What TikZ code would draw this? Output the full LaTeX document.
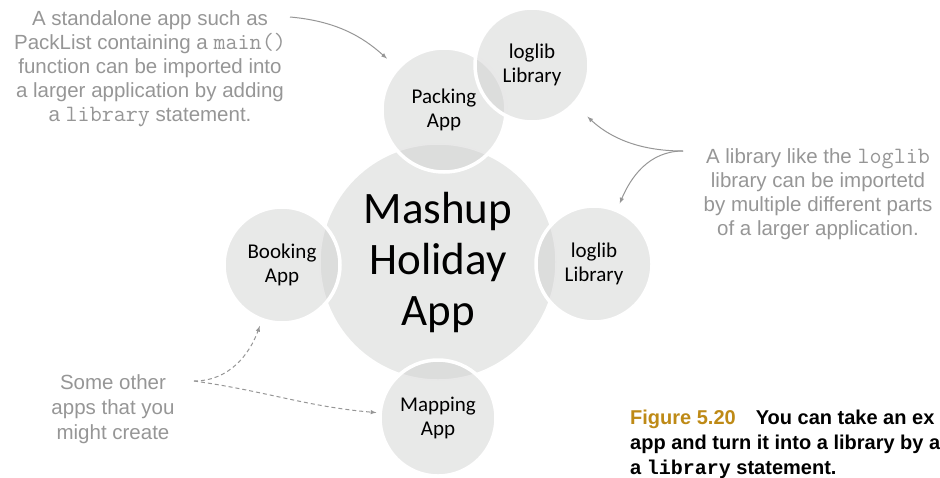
\documentclass[tikz,border=0pt]{standalone}
\usepackage{fontspec}
\setmainfont{Liberation Sans}
\newfontfamily\circfont{Carlito}
\newfontfamily\codefont{Liberation Mono}
\newcommand{\thincode}[1]{{\ttfamily\fontsize{23.4}{24}\selectfont #1}}
\definecolor{notegray}{RGB}{150,150,150}
\definecolor{bubblegray}{RGB}{207,208,207}
\definecolor{hubgray}{RGB}{232,233,232}
\definecolor{figgold}{RGB}{190,138,22}

\begin{document}
\begin{tikzpicture}[
  x=1pt, y=1pt,
  hub/.style={circle, fill=hubgray, draw=white, line width=1.5pt,
    minimum size=236pt, inner sep=0pt, align=center,
    font=\circfont\fontsize{45}{51}\selectfont},
  bubble/.style={circle, fill=bubblegray, fill opacity=0.48,
    text opacity=1, draw=white, draw opacity=1, line width=3.5pt,
    minimum size=116pt, inner sep=0pt, align=center,
    font=\circfont\fontsize{21}{24}\selectfont},
  note/.style={font=\fontsize{20.5}{24}\selectfont, text=notegray,
    align=center, inner sep=0pt},
  arr/.style={-latex, line width=1pt, notegray},
  darr/.style={arr, dash pattern=on 4pt off 3pt}
]
\useasboundingbox (0,-477) rectangle (940,0);
\clip (0,-477) rectangle (940,0);

\node[hub] (hub) at (438,-262) {Mashup\\Holiday\\App};
\node[bubble, minimum size=124pt] (pack) at (444,-110) {Packing\\App};
\node[bubble, minimum size=114pt] (liba) at (532,-65) {loglib\\Library};
\node[bubble] (libb) at (594,-264) {loglib\\Library};
\node[bubble] (book) at (282,-265) {Booking\\App};
\node[bubble] (map) at (438,-418) {Mapping\\App};

\node[note, anchor=base] (standalone) at (150,-121) {A standalone app such as\\PackList containing a \thincode{main()}\\function can be imported into\\a larger application by adding\\a \thincode{library} statement.};
\node[note, anchor=base] (shared) at (818,-235) {A library like the \thincode{loglib}\\library can be importetd\\by multiple different parts\\of a larger application.};
\node[note, anchor=base, font=\fontsize{20.5}{25}\selectfont] (others) at (113,-439) {Some other\\apps that you\\might create};

\node[anchor=base west, align=left, inner sep=0pt,
  font=\bfseries\fontsize{20}{25}\selectfont] (caption) at (630,-474)
  {\textcolor{figgold}{Figure 5.20}\hspace{20pt}You can take an ex\\app and turn it into a library by a\\a {\codefont\bfseries library} statement.};

\coordinate (packtail) at (290,-17);
\coordinate (libtail) at (683,-151);
\coordinate (othertail) at (194,-381);

\draw[arr, shorten >=13pt] (packtail) to[out=-5,in=138] (pack);
\draw[arr, shorten >=17pt] (libtail) to[out=180,in=-43] (liba);
\draw[arr, shorten >=6pt] (libtail) to[out=180,in=67] (libb);
\draw[darr, shorten >=5pt] (othertail) to[out=0,in=250] (book);
\draw[darr, shorten >=2pt] (othertail) to[out=-8,in=175] (map);

\end{tikzpicture}
\end{document}
